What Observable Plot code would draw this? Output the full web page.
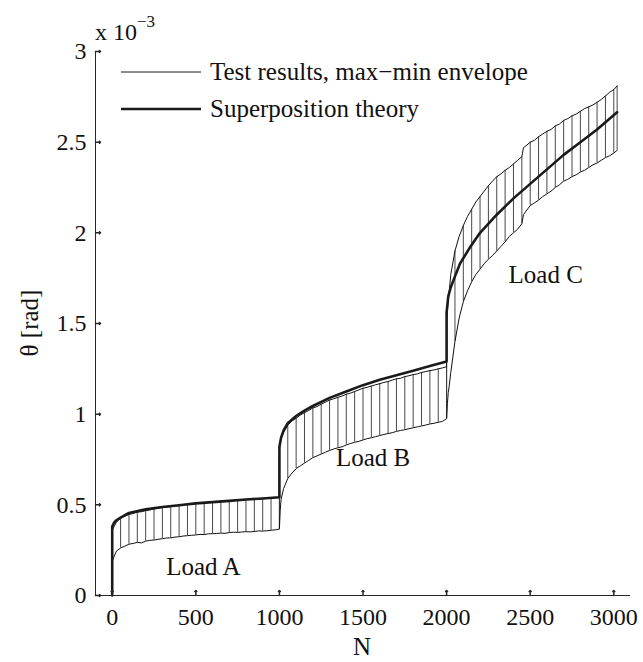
<!DOCTYPE html>
<html><head><meta charset="utf-8">
<script src="https://cdn.jsdelivr.net/npm/d3@7"></script>
<script src="https://cdn.jsdelivr.net/npm/@observablehq/plot@0.6"></script>
<style>
html,body{margin:0;padding:0;background:#fff;}
#chart svg{display:block;}
</style></head><body><div id="chart"></div>
<script>
// Envelope of test results (theta in 1e-3 rad), aligned arrays
const envN = [0,25,50,75,100,125,150,175,200,225,250,275,300,325,350,375,400,425,450,475,500,525,550,575,600,625,650,675,700,725,750,775,800,825,850,875,900,925,950,975,1000,
  1000,1005,1010,1025,1050,1075,1100,1125,1150,1175,1200,1225,1250,1275,1300,1325,1350,1375,1400,1425,1450,1475,1500,1525,1550,1575,1600,1625,1650,1675,1700,1725,1750,1775,1800,1825,1850,1875,1900,1925,1950,1975,2000,
  2000,2005,2010,2015,2025,2050,2075,2100,2125,2150,2175,2200,2225,2250,2275,2300,2325,2350,2375,2400,2425,2450,2460,2475,2500,2525,2550,2575,2600,2625,2650,2675,2700,2725,2750,2775,2800,2825,2850,2875,2900,2925,2950,2975,3000,3020];
const envMax = [0.36,0.405,0.425,0.438,0.447,0.452,0.460,0.462,0.468,0.472,0.478,0.480,0.486,0.487,0.490,0.496,0.495,0.500,0.503,0.502,0.508,0.510,0.512,0.515,0.514,0.518,0.520,0.522,0.521,0.525,0.527,0.528,0.530,0.531,0.533,0.535,0.535,0.537,0.538,0.540,0.541,
  0.80,0.84,0.87,0.90,0.94,0.962,0.978,0.995,1.008,1.02,1.034,1.042,1.055,1.066,1.078,1.085,1.093,1.10,1.11,1.116,1.125,1.134,1.143,1.148,1.155,1.162,1.168,1.175,1.18,1.188,1.195,1.198,1.207,1.212,1.218,1.222,1.23,1.235,1.24,1.244,1.25,1.255,1.262,
  1.50,1.58,1.63,1.67,1.77,1.90,1.98,2.04,2.09,2.13,2.17,2.20,2.23,2.26,2.285,2.31,2.325,2.345,2.36,2.38,2.40,2.42,2.47,2.48,2.50,2.51,2.53,2.545,2.56,2.57,2.59,2.60,2.62,2.63,2.645,2.655,2.67,2.685,2.695,2.705,2.72,2.735,2.755,2.775,2.79,2.81];
const envMin = [0.19,0.245,0.262,0.272,0.283,0.287,0.293,0.290,0.300,0.304,0.306,0.310,0.313,0.317,0.318,0.322,0.324,0.328,0.330,0.332,0.334,0.337,0.336,0.340,0.341,0.342,0.344,0.343,0.347,0.349,0.348,0.350,0.352,0.351,0.353,0.356,0.355,0.357,0.360,0.362,0.366,
  0.366,0.47,0.53,0.59,0.645,0.675,0.70,0.715,0.73,0.745,0.76,0.77,0.78,0.79,0.80,0.808,0.815,0.82,0.83,0.838,0.845,0.85,0.858,0.865,0.87,0.876,0.882,0.888,0.893,0.898,0.905,0.91,0.914,0.92,0.925,0.93,0.935,0.94,0.946,0.95,0.955,0.96,0.975,
  0.975,1.06,1.12,1.15,1.23,1.40,1.53,1.62,1.68,1.73,1.77,1.80,1.83,1.855,1.875,1.90,1.925,1.95,1.98,2.00,2.02,2.05,2.10,2.12,2.15,2.165,2.18,2.20,2.215,2.23,2.25,2.265,2.285,2.295,2.31,2.32,2.335,2.345,2.36,2.375,2.385,2.40,2.415,2.425,2.44,2.455];

// Superposition theory
const theoryN = [0,0,10,25,50,100,200,300,400,500,600,700,800,900,1000,
  1000,1010,1025,1050,1100,1150,1200,1300,1400,1500,1600,1700,1800,1900,2000,
  2000,2010,2025,2050,2080,2140,2200,2300,2400,2500,2600,2700,2800,2900,3020];
const theoryV = [0,0.38,0.40,0.415,0.43,0.455,0.475,0.488,0.498,0.508,0.515,0.522,0.529,0.535,0.542,
  0.82,0.87,0.91,0.95,0.99,1.02,1.045,1.09,1.125,1.16,1.19,1.215,1.24,1.265,1.29,
  1.56,1.65,1.70,1.76,1.83,1.92,2.00,2.10,2.19,2.27,2.35,2.43,2.50,2.57,2.665];

const xTicks = [0,500,1000,1500,2000,2500,3000];
const xTickLabels = ["0","500","1000","1500","2000","2500","3000"];
const yTicks = [0,0.5,1,1.5,2,2.5,3];
const yTickLabels = ["0","0.5","1","1.5","2","2.5","3"];
const loadLabels = ["Load A","Load B","Load C"];
const loadLabelN = [545, 1560, 2593];
const loadLabelV = [0.155, 0.76, 1.77];
const legendLabels = ["Test results, max\u2212min envelope","Superposition theory"];
const xTitle = "N";
const yTitle = "\u03b8 [rad]";

const font = "'Liberation Serif','Times New Roman',serif";
const rows = envN.map((n,i)=>({n, hi: envMax[i], lo: envMin[i]}));
const ruleRows = rows.filter((d,i)=> d.n % 50 === 0 || i === rows.length-1);
const thRows = theoryN.map((n,i)=>({n, v: theoryV[i]}));

const plot = Plot.plot({
  width: 643, height: 662,
  marginTop: 51, marginBottom: 67, marginLeft: 95, marginRight: 13,
  style: {fontFamily: font, fontSize: "24px", color: "#111", background: "#fff", overflow: "visible"},
  x: {domain: [-100, 3100], label: null},
  y: {domain: [0, 3], label: null},
  marks: [
    Plot.ruleX(ruleRows, {x: "n", y1: "lo", y2: "hi", stroke: "#333", strokeWidth: 0.9}),
    Plot.line(rows, {x: "n", y: "hi", stroke: "#111", strokeWidth: 1}),
    Plot.line(rows, {x: "n", y: "lo", stroke: "#111", strokeWidth: 1}),
    Plot.line(thRows, {x: "n", y: "v", stroke: "#1a1a1a", strokeWidth: 2.6}),
    Plot.ruleY([0], {stroke: "#262626"}),
    Plot.ruleX([-100], {stroke: "#262626"}),
    Plot.vector(xTicks, {x: d=>d, y: ()=>0, length: 5, anchor: "start", rotate: 0, stroke: "#262626"}),
    Plot.vector(yTicks, {x: ()=>-100, y: d=>d, length: 5, anchor: "start", rotate: 90, stroke: "#262626"}),
    Plot.axisX(xTicks, {tickSize: 0, tickPadding: 12, tickFormat: d=>xTickLabels[xTicks.indexOf(d)], fontSize: 24, label: null}),
    Plot.axisY(yTicks, {tickSize: 0, tickPadding: 9, tickFormat: d=>yTickLabels[yTicks.indexOf(d)], fontSize: 24, label: null}),
    Plot.text(loadLabels, {x: (d,i)=>loadLabelN[i], y: (d,i)=>loadLabelV[i], text: d=>d, fontSize: 25})
  ]
});
document.getElementById("chart").appendChild(plot);

const svg = d3.select(plot);
// exponent
const ex = svg.append("text").attr("x", 95).attr("y", 40).attr("text-anchor","start").attr("font-family", font).attr("font-size", 24).attr("fill", "#111");
ex.append("tspan").text("x 10");
ex.append("tspan").attr("dy", -13).attr("font-size", 17).text("\u22123");
// legend
const legY = [72, 109];
const legW = [1, 2.6];
legendLabels.forEach((t,i)=>{
  svg.append("line").attr("x1",121).attr("x2",201).attr("y1",legY[i]).attr("y2",legY[i]).attr("stroke","#1a1a1a").attr("stroke-width",legW[i]);
  svg.append("text").attr("x",210).attr("y",legY[i]+8).attr("text-anchor","start").attr("font-family",font).attr("font-size",25).attr("fill","#111").text(t);
});
// axis titles
svg.append("text").attr("x", 362).attr("y", 655).attr("text-anchor","middle").attr("font-family",font).attr("font-size",25).attr("fill","#111").text(xTitle);
svg.append("text").attr("transform","translate(38,323) rotate(-90)").attr("text-anchor","middle").attr("font-family",font).attr("font-size",25).attr("fill","#111").text(yTitle);
</script></body></html>
